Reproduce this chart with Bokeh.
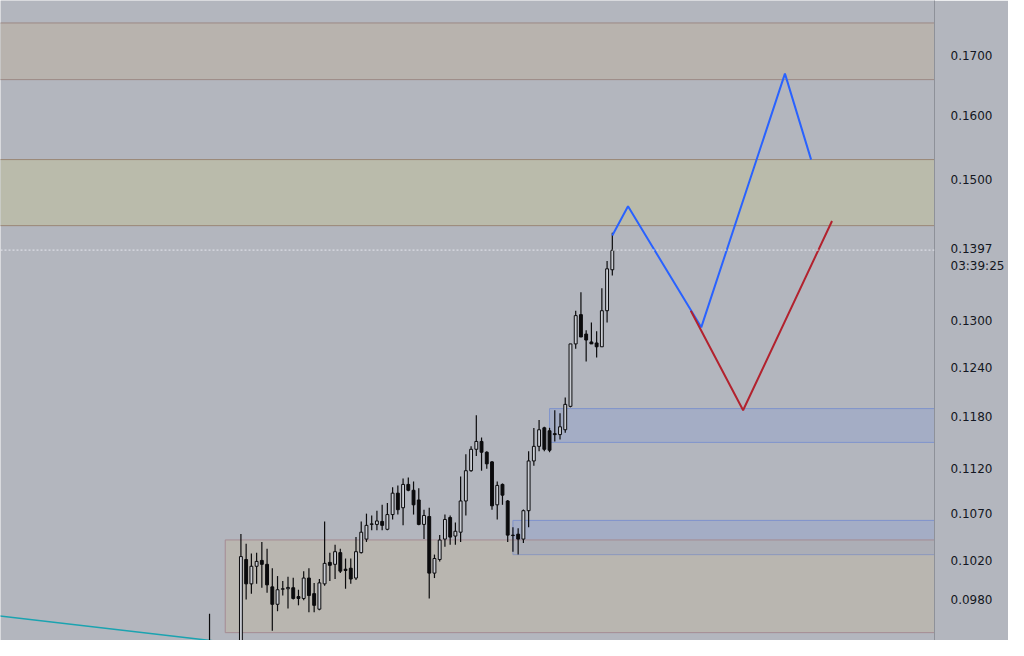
from bokeh.plotting import figure
from bokeh.models import Range1d, FixedTicker, PrintfTickFormatter, Span, ColumnDataSource
from bokeh.embed import file_html
from bokeh.resources import INLINE

# ---- candle data (bar index, OHLC) ----
idx = [-6] + list(range(72))
opens = [0.0932, 0.0925, 0.10215, 0.09966, 0.10145, 0.10205, 0.10165, 0.09936, 0.09762,
         0.09912, 0.09917, 0.09927, 0.09839, 0.09820, 0.10025, 0.09868, 0.09714, 0.09966,
         0.10185, 0.10165, 0.10286, 0.10115, 0.10125, 0.10025, 0.10286, 0.10428, 0.10584,
         0.10584, 0.10616, 0.10532, 0.10690, 0.10924, 0.10764, 0.11021, 0.10956, 0.10849,
         0.10584, 0.10669, 0.10075, 0.10215, 0.10428, 0.10658, 0.10460, 0.10501, 0.10838,
         0.11175, 0.11420, 0.11511, 0.11386, 0.11275, 0.10796, 0.11021, 0.10838, 0.10470,
         0.10480, 0.10428, 0.10732, 0.11286, 0.11454, 0.11671, 0.11636, 0.11602, 0.11591,
         0.11648, 0.11927, 0.12705, 0.13087, 0.12832, 0.12730, 0.12717, 0.12668, 0.13139,
         0.13695]
highs = [0.0967, 0.10481, 0.10378, 0.10276, 0.10286, 0.10398, 0.10327, 0.10125, 0.10045,
         0.09996, 0.10038, 0.10028, 0.09907, 0.10095, 0.10125, 0.09976, 0.10015, 0.10616,
         0.10286, 0.10368, 0.10327, 0.10225, 0.10225, 0.10449, 0.10616, 0.10700, 0.10680,
         0.10732, 0.10796, 0.10817, 0.10989, 0.11010, 0.11087, 0.11098, 0.11054, 0.10978,
         0.10743, 0.10764, 0.10266, 0.10470, 0.10690, 0.10680, 0.10605, 0.11109, 0.11364,
         0.11454, 0.11820, 0.11557, 0.11398, 0.11286, 0.11054, 0.11032, 0.10849, 0.10553,
         0.10542, 0.10746, 0.11398, 0.11670, 0.11763, 0.11683, 0.11671, 0.11880, 0.11845,
         0.12034, 0.12705, 0.13139, 0.13387, 0.12883, 0.12984, 0.12870, 0.13440, 0.13817,
         0.14218]
lows = [0.0920, 0.0915, 0.09810, 0.09868, 0.09966, 0.09927, 0.09878, 0.09505, 0.09694,
        0.09849, 0.09720, 0.09810, 0.09752, 0.09801, 0.09685, 0.09685, 0.09704, 0.09946,
        0.09996, 0.10015, 0.10075, 0.09917, 0.09966, 0.10005, 0.10276, 0.10398, 0.10522,
        0.10522, 0.10522, 0.10522, 0.10637, 0.10690, 0.10574, 0.10945, 0.10690, 0.10574,
        0.10428, 0.09820, 0.10025, 0.10195, 0.10347, 0.10368, 0.10368, 0.10398, 0.10680,
        0.11164, 0.11342, 0.11175, 0.11197, 0.10743, 0.10637, 0.10796, 0.10398, 0.10296,
        0.10266, 0.10388, 0.10553, 0.11230, 0.11398, 0.11398, 0.11386, 0.11511, 0.11534,
        0.11613, 0.11915, 0.12643, 0.12794, 0.12481, 0.12705, 0.12530, 0.12668, 0.12984,
        0.13614]
closes = [0.0928, 0.10245, 0.09966, 0.10145, 0.10195, 0.10165, 0.09956, 0.09762, 0.09907,
          0.09917, 0.09930, 0.09820, 0.09820, 0.10025, 0.09849, 0.09752, 0.09976, 0.10175,
          0.10155, 0.10296, 0.10095, 0.10102, 0.10015, 0.10296, 0.10501, 0.10574, 0.10590,
          0.10621, 0.10574, 0.10690, 0.10924, 0.10743, 0.11021, 0.10956, 0.10796, 0.10584,
          0.10680, 0.10075, 0.10225, 0.10418, 0.10637, 0.10449, 0.10511, 0.10838, 0.11175,
          0.11420, 0.11511, 0.11386, 0.11253, 0.10785, 0.11010, 0.10902, 0.10470, 0.10465,
          0.10428, 0.10732, 0.11286, 0.11454, 0.11648, 0.11420, 0.11409, 0.11591, 0.11683,
          0.11951, 0.12705, 0.13074, 0.12794, 0.12755, 0.12705, 0.12668, 0.13139, 0.13708,
          0.13968]

# ---- zones (left bar, right bar, top price, bottom price) ----
zone_left = [-50, -50, 59, 52, -3]
zone_right = [140, 140, 140, 140, 140]
zone_top = [0.1758, 0.1531, 0.1190, 0.10627, 0.10419]
zone_bottom = [0.1660, 0.1432, 0.1150, 0.10265, 0.09486]
zone_fill = ["#b8b3ae", "#babbab", "#2962ff", "#2962ff", "#f9bf3c"]
zone_alpha = [1.0, 1.0, 0.11, 0.11, 0.10]
zone_line = ["#9c8985", "#9a8676", "#7f93cc", "#7f93cc", "#a58b93"]

# ---- projection paths ----
blue_x = [71, 74, 88, 104, 109]
blue_y = [0.14177, 0.14603, 0.12920, 0.16701, 0.15310]
red_x = [86, 96, 113]
red_y = [0.13139, 0.11880, 0.14387]
teal_x = [-50, -2]
teal_y = [0.09671, 0.09389]

last_price = 0.1397
countdown = "03:39:25"
tick_values = [0.18, 0.17, 0.16, 0.15, 0.13, 0.124, 0.118, 0.112, 0.107, 0.102, 0.098, 0.094]

BOX_ANCHOR = 0.1387   # vertical centre of the two-line price tag (layout constant)
BG = "#b3b6be"

p = figure(width=1008, height=640, output_backend="svg", toolbar_location=None,
           y_axis_type="log", y_axis_location="right",
           x_range=Range1d(-45.96, 132.59), y_range=Range1d(0.09411, 0.17984),
           min_border_left=0, min_border_top=0, min_border_bottom=0, min_border_right=74)
p.background_fill_color = BG
p.border_fill_color = BG
p.outline_line_color = None
p.xaxis.visible = False
p.xgrid.visible = False
p.ygrid.visible = False

ya = p.yaxis[0]
ya.ticker = FixedTicker(ticks=tick_values + [BOX_ANCHOR], minor_ticks=[])
ya.formatter = PrintfTickFormatter(format="%.4f")
ya.major_label_overrides = {BOX_ANCHOR: "%.4f\n%s" % (last_price, countdown)}
ya.major_tick_line_color = None
ya.minor_tick_line_color = None
ya.axis_line_color = "#8e9199"
ya.major_label_text_color = "#131722"
ya.major_label_text_font = "DejaVu Sans"
ya.major_label_text_font_size = "12px"
ya.major_label_standoff = 10

zsrc = ColumnDataSource(dict(l=zone_left, r=zone_right, t=zone_top, b=zone_bottom,
                             f=zone_fill, a=zone_alpha, lc=zone_line))
p.quad(left="l", right="r", top="t", bottom="b", fill_color="f", fill_alpha="a",
       line_color="lc", line_width=1, source=zsrc)

p.add_layout(Span(location=last_price, dimension="width", line_color="#e6e8ee",
                  line_dash="2 2", line_width=1))

p.line(teal_x, teal_y, line_color="#1aa3b0", line_width=1.5)

up = [o <= c for o, c in zip(opens, closes)]
src = ColumnDataSource(dict(
    x=idx, h=highs, l=lows,
    top=[max(o, c) for o, c in zip(opens, closes)],
    bot=[min(o, c) for o, c in zip(opens, closes)],
    fill=["#c9ccd3" if u else "#0b0b0d" for u in up]))
p.segment(x0="x", x1="x", y0="l", y1="h", line_color="#0b0b0d", line_width=1.2, source=src)
p.vbar(x="x", width=0.55, top="top", bottom="bot", fill_color="fill",
       line_color="#0b0b0d", line_width=1, source=src)

p.line(blue_x, blue_y, line_color="#2962ff", line_width=2)
p.line(red_x, red_y, line_color="#b2222e", line_width=2)

open("out.html", "w").write(file_html(p, INLINE))
